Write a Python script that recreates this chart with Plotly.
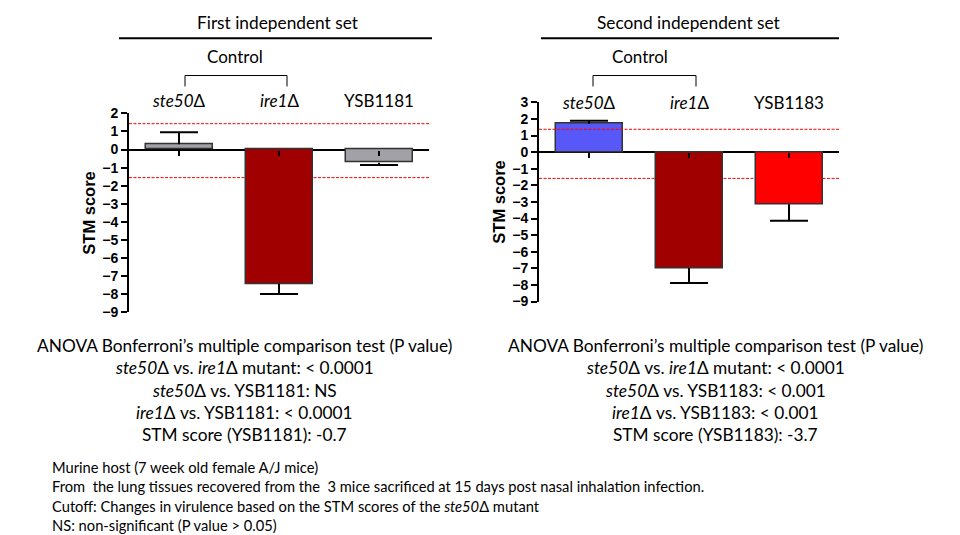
import plotly.graph_objects as go

W, H = 960, 535
# offsets between figure pixels and the photographed page, measured on earlier renders
OFF_X = 8
SY, OY = 0.9745, 15.2

strains_1 = ["<i>ste50</i>Δ", "<i>ire1</i>Δ", "YSB1181"]
scores_1 = [0.3, -7.42, -0.73]
err_up_1 = [0.65, 0.0, 0.0]
err_down_1 = [0.0, 0.56, 0.13]
colors_1 = ["#a2a1a8", "#a00000", "#a2a1a8"]
cutoffs_1 = [1.43, -1.55]

strains_2 = ["<i>ste50</i>Δ", "<i>ire1</i>Δ", "YSB1183"]
scores_2 = [1.72, -6.98, -3.14]
err_up_2 = [0.18, 0.0, 0.0]
err_down_2 = [0.0, 0.9, 1.0]
colors_2 = ["#5858f8", "#a00000", "#ff0000"]
cutoffs_2 = [1.38, -1.58]

titles = ["First independent set", "Second independent set"]

stats_1 = [
    "ANOVA Bonferroni’s multiple comparison test (P value)",
    "<i>ste50</i>Δ vs. <i>ire1</i>Δ mutant: < 0.0001",
    "<i>ste50</i>Δ vs. YSB1181: NS",
    "<i>ire1</i>Δ vs. YSB1181: < 0.0001",
    "STM score (YSB1181): -0.7",
]
stats_2 = [
    "ANOVA Bonferroni’s multiple comparison test (P value)",
    "<i>ste50</i>Δ vs. <i>ire1</i>Δ mutant: < 0.0001",
    "<i>ste50</i>Δ vs. YSB1183: < 0.001",
    "<i>ire1</i>Δ vs. YSB1183: < 0.001",
    "STM score (YSB1183): -3.7",
]
notes = [
    "Murine host (7 week old female A/J mice)",
    "From  the lung tissues recovered from the  3 mice sacrificed at 15 days post nasal inhalation infection.",
    "Cutoff: Changes in virulence based on the STM scores of the <i>ste50</i>Δ mutant",
    "NS: non-significant (P value > 0.05)",
]

TXT = "Lato, 'Open Sans', sans-serif"
AX = "Arial, 'Liberation Sans', sans-serif"


def px(x):
    return (x - OFF_X) / W


def py(y, floor=0):
    return 1 - max((y - OY) / SY, floor) / H


# panel geometry in reference pixels
panels = [
    dict(x0=129, x1=429, top=113, bot=313, ymin=-9, ymax=2, label_y=100,
         bracket=(0.06, 1.08), control_x=0.56, title_x=0.99,
         strains=strains_1, scores=scores_1, up=err_up_1, down=err_down_1,
         colors=colors_1, cut=cutoffs_1, title=titles[0], stats=stats_1,
         tline=(119, 432), textx=244),
    dict(x0=539, x1=839, top=102, bot=302, ymin=-9, ymax=3, label_y=102,
         bracket=(0.04, 1.07), control_x=0.51, title_x=1.0,
         strains=strains_2, scores=scores_2, up=err_up_2, down=err_down_2,
         colors=colors_2, cut=cutoffs_2, title=titles[1], stats=stats_2,
         tline=(541, 839), textx=715),
]

fig = go.Figure()
shapes = []
annotations = []
layout = {}

for i, p in enumerate(panels):
    n = "" if i == 0 else str(i + 1)
    xa, ya = "x" + n, "y" + n
    cats = list(range(len(p["strains"])))
    fig.add_trace(go.Bar(
        x=cats, y=p["scores"], xaxis=xa, yaxis=ya, width=0.67,
        marker=dict(color=p["colors"], line=dict(color="#333333", width=1.5)),
        showlegend=False, hoverinfo="skip",
    ))
    # one-sided error bars (away from zero), cap only at the tip
    ex, ey = [], []
    cap = 0.19
    for k, (s, u, d) in enumerate(zip(p["scores"], p["up"], p["down"])):
        tip = s + u if s >= 0 else s - d
        ex += [k, k, None, k - cap, k + cap, None]
        ey += [s, tip, None, tip, tip, None]
    fig.add_trace(go.Scatter(
        x=ex, y=ey, xaxis=xa, yaxis=ya, mode="lines",
        line=dict(color="black", width=2), showlegend=False, hoverinfo="skip",
    ))
    zero_px = p["top"] + p["ymax"] / (p["ymax"] - p["ymin"]) * (p["bot"] - p["top"])
    layout["xaxis" + n] = dict(
        domain=[px(p["x0"]), px(p["x1"])], range=[-0.5, len(cats) - 0.5],
        anchor="free", position=py(zero_px), tickvals=cats,
        showticklabels=False, ticks="outside", ticklen=5, tickwidth=2,
        tickcolor="black", showline=False, showgrid=False, zeroline=False,
        fixedrange=True,
    )
    layout["yaxis" + n] = dict(
        domain=[py(p["bot"]), py(p["top"])],
        range=[p["ymin"], p["ymax"]], dtick=1, anchor=xa,
        showline=True, linecolor="black", linewidth=2, ticks="outside",
        ticklen=6, tickwidth=2, tickcolor="black", showgrid=False,
        zeroline=True, zerolinecolor="black", zerolinewidth=2,
        tickfont=dict(family=AX, size=14, color="black", weight="bold"),
        title=dict(text="<b>STM score</b>", standoff=2,
                   font=dict(family=AX, size=16.5, color="black")),
        fixedrange=True,
    )
    for c in p["cut"]:
        shapes.append(dict(type="line", xref=xa, yref=ya, x0=-0.5, x1=len(cats) - 0.5,
                           y0=c, y1=c, layer="above" if c > 0 else "below",
                           line=dict(color="red", width=1, dash="3px,1.5px")))
    # strain labels above the plot
    for k, s in enumerate(p["strains"]):
        annotations.append(dict(x=k, y=py(p["label_y"]), xref=xa, yref="paper",
                                text=s, showarrow=False, xanchor="center", yanchor="middle",
                                font=dict(family=TXT, size=17, color="black")))
    # control bracket
    by0, by1 = py(86), py(75)
    b0, b1 = p["bracket"]
    shapes.append(dict(type="path", xref=xa, yref="paper",
                       path=f"M {b0} {by0} L {b0} {by1} L {b1} {by1} L {b1} {by0}",
                       line=dict(color="black", width=1)))
    annotations.append(dict(x=p["control_x"], y=py(56), xref=xa, yref="paper", text="Control",
                            showarrow=False, xanchor="center", yanchor="middle",
                            font=dict(family=TXT, size=17, color="black")))
    # set title and rule
    annotations.append(dict(x=p["title_x"], y=py(17, floor=6.5), xref=xa, yref="paper",
                            text=p["title"], showarrow=False, xanchor="center",
                            yanchor="middle",
                            font=dict(family=TXT, size=17.3, color="black")))
    shapes.append(dict(type="line", xref="paper", yref="paper",
                       x0=px(p["tline"][0]), x1=px(p["tline"][1]),
                       y0=py(37.5), y1=py(37.5), line=dict(color="black", width=2)))
    # statistics block
    for k, line in enumerate(p["stats"]):
        annotations.append(dict(x=px(p["textx"]), y=py(346 + 22.5 * k),
                                xref="paper", yref="paper", text=line, showarrow=False,
                                xanchor="center", yanchor="middle",
                                font=dict(family=TXT, size=17.3, color="black")))

for k, line in enumerate(notes):
    annotations.append(dict(x=px(50), y=py(468 + 19.6 * k), xref="paper", yref="paper",
                            text=line, showarrow=False, xanchor="left", yanchor="middle",
                            font=dict(family=TXT, size=14.7, color="black")))

fig.update_layout(
    width=W, height=H, margin=dict(l=0, r=0, t=0, b=0),
    plot_bgcolor="white", paper_bgcolor="white",
    shapes=shapes, annotations=annotations, bargap=0, **layout,
)

fig.write_html("out.html")
